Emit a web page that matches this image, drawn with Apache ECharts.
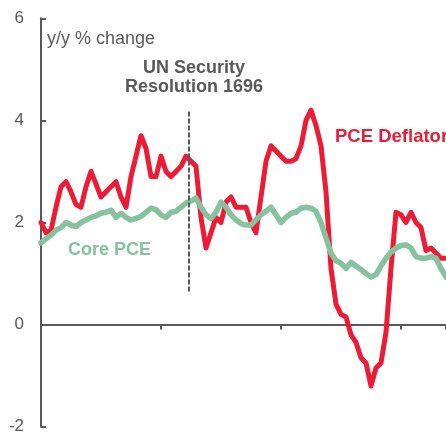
<!DOCTYPE html>
<html>
<head>
<meta charset="utf-8">
<script src="https://cdn.jsdelivr.net/npm/echarts@6/dist/echarts.min.js"></script>
<style>
  html, body { margin: 0; padding: 0; background: #fff; }
  #chart { width: 446px; height: 438px; }
</style>
</head>
<body>
<div id="chart"></div>
<script>
// monthly, Jan 2004 .. Oct 2010 (index 0 = Jan 2004)
var pceDeflator = [
    2.0, 1.8, 1.85, 2.3, 2.7, 2.8, 2.6, 2.35, 2.3, 2.7, 3.0, 2.75,
    2.5, 2.6, 2.7, 2.8, 2.5, 2.3, 2.9, 3.3, 3.7, 3.45, 2.9, 2.9,
    3.3, 3.0, 2.9, 3.0, 3.1, 3.3, 3.2, 3.1, 2.1, 1.5, 1.8, 2.1,
    2.0, 2.4, 2.5, 2.3, 2.3, 2.3, 2.0, 1.8, 2.5, 3.2, 3.5, 3.4,
    3.3, 3.2, 3.2, 3.25, 3.5, 4.0, 4.2, 3.9, 3.5, 2.6, 1.1, 0.4,
    0.2, 0.15, -0.2, -0.35, -0.65, -0.75, -1.2, -0.85, -0.75, -0.15, 1.1, 2.2,
    2.15, 2.0, 2.2, 2.0, 1.9, 1.45, 1.5, 1.4, 1.3, 1.3
];
var corePce = [
    1.6, 1.68, 1.75, 1.85, 1.9, 2.0, 1.95, 1.92, 2.0, 2.05, 2.1, 2.13,
    2.18, 2.2, 2.24, 2.1, 2.18, 2.1, 2.05, 2.08, 2.12, 2.2, 2.28, 2.25,
    2.15, 2.1, 2.2, 2.22, 2.3, 2.38, 2.42, 2.48, 2.3, 2.15, 2.08, 2.2,
    2.4, 2.3, 2.15, 2.05, 1.98, 1.95, 1.95, 2.05, 2.15, 2.22, 2.3, 2.15,
    2.0, 2.1, 2.18, 2.2, 2.28, 2.3, 2.28, 2.22, 2.0, 1.7, 1.4, 1.25,
    1.2, 1.1, 1.22, 1.15, 1.08, 1.0, 0.93, 0.98, 1.15, 1.3, 1.42, 1.5,
    1.55, 1.56, 1.5, 1.33, 1.3, 1.3, 1.33, 1.3, 1.1, 0.93
];
var yTicks = [-2, 0, 2, 4, 6];
var resolutionMonth = 29.6;   // late July 2006
var resolutionSpan = [0.65, 4.2];

var red = '#ED1B35';
var green = '#86C29D';
var grey = '#595959';

function toPoints(arr) {
    return arr.map(function (v, i) { return [i, v]; });
}

var chart = echarts.init(document.getElementById('chart'));

var option = {
    animation: false,
    grid: { left: 41, right: 0, top: 18.3, bottom: 11.3, containLabel: false },
    xAxis: {
        type: 'value',
        min: 0,
        max: pceDeflator.length - 1,
        interval: 24,
        axisLine: { onZero: true, lineStyle: { color: grey, width: 2 } },
        axisTick: { show: true, inside: false, length: 5, lineStyle: { color: grey, width: 2 } },
        axisLabel: { show: false },
        splitLine: { show: false }
    },
    yAxis: {
        type: 'value',
        min: yTicks[0],
        max: yTicks[yTicks.length - 1],
        interval: 2,
        axisLine: { show: true, onZero: false, lineStyle: { color: grey, width: 2 } },
        axisTick: { show: true, inside: true, length: 5, lineStyle: { color: grey, width: 2 } },
        axisLabel: {
            color: grey,
            fontSize: 17,
            fontFamily: 'Liberation Sans, Arial, sans-serif',
            margin: 17
        },
        splitLine: { show: false }
    },
    series: [
        {
            name: 'PCE Deflator',
            type: 'line',
            data: toPoints(pceDeflator),
            showSymbol: false,
            symbol: 'none',
            lineStyle: { color: red, width: 5, cap: 'round', join: 'round' },
            z: 2,
            markLine: {
                silent: true,
                symbol: 'none',
                label: { show: false },
                lineStyle: { color: grey, width: 2, type: [5, 2] },
                data: [[
                    { coord: [resolutionMonth, resolutionSpan[0]] },
                    { coord: [resolutionMonth, resolutionSpan[1]] }
                ]]
            }
        },
        {
            name: 'Core PCE',
            type: 'line',
            data: toPoints(corePce),
            showSymbol: false,
            symbol: 'none',
            lineStyle: { color: green, width: 5.5, cap: 'round', join: 'round' },
            z: 3
        }
    ],
    graphic: [
        {
            type: 'text', left: 47, top: 30,
            style: { text: 'y/y % change', fill: grey, font: '18px "Liberation Sans", Arial, sans-serif' }
        },
        {
            type: 'text', x: 194, y: 58,
            style: {
                text: 'UN Security\nResolution 1696', fill: grey, align: 'center', lineHeight: 19.5,
                font: 'bold 18px "Liberation Sans", Arial, sans-serif'
            }
        },
        {
            type: 'text', x: 335, y: 127,
            style: { text: 'PCE Deflator', fill: red, font: 'bold 18.5px "Liberation Sans", Arial, sans-serif' }
        },
        {
            type: 'text', left: 68, top: 241,
            style: { text: 'Core PCE', fill: green, font: 'bold 18px "Liberation Sans", Arial, sans-serif' }
        }
    ]
};

chart.setOption(option);
</script>
</body>
</html>
